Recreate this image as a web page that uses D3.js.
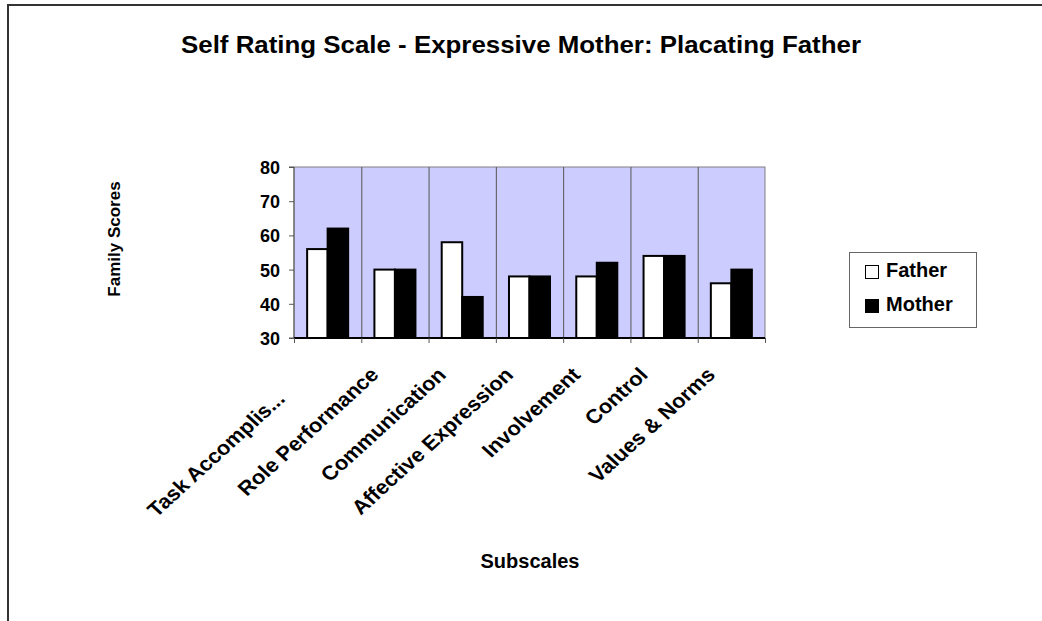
<!DOCTYPE html>
<html>
<head>
<meta charset="utf-8">
<script src="https://cdn.jsdelivr.net/npm/d3@7"></script>
<style>
  body { margin: 0; background: #fff; }
  text { font-family: "Liberation Sans", Arial, sans-serif; font-weight: bold; fill: #000; }
</style>
</head>
<body>
<div id="chart"></div>
<script>
// chart data
var subscales = ["Task Accomplis...", "Role Performance", "Communication", "Affective Expression",
                 "Involvement", "Control", "Values & Norms"];
var seriesNames = ["Father", "Mother"];
var fatherScores = [56, 50, 58, 48, 48, 54, 46];
var motherScores = [62, 50, 42, 48, 52, 54, 50];
var yTicks = [30, 40, 50, 60, 70, 80];

var svgWidth = 1042;
var svgHeight = 621;

var plot = { left: 294, right: 765, top: 167, bottom: 338 };

var svg = d3.select("#chart")
  .append("svg")
  .attr("width", svgWidth)
  .attr("height", svgHeight);

// outer chart border (bottom edge runs off the picture)
svg.append("path")
  .attr("d", `M8,${svgHeight + 5} V5 H${svgWidth + 5}`)
  .attr("fill", "none")
  .attr("stroke", "#333")
  .attr("stroke-width", 2);

// title
svg.append("text")
  .attr("x", 521)
  .attr("y", 53)
  .attr("text-anchor", "middle")
  .attr("textLength", 680)
  .attr("lengthAdjust", "spacingAndGlyphs")
  .style("font-size", "23px")
  .text("Self Rating Scale - Expressive Mother: Placating Father");

// scales
var xScale = d3.scaleBand()
  .domain(subscales)
  .range([plot.left, plot.right]);

var xInner = d3.scaleBand()
  .domain(seriesNames)
  .range([0, xScale.bandwidth()])
  .paddingOuter(0.64);

var yScale = d3.scaleLinear()
  .domain([30, 80])
  .range([plot.bottom, plot.top]);

// plot area background
svg.append("rect")
  .attr("x", plot.left)
  .attr("y", plot.top)
  .attr("width", plot.right - plot.left)
  .attr("height", plot.bottom - plot.top)
  .attr("fill", "#ccccff")
  .attr("stroke", "#808080")
  .attr("stroke-width", 1);

// vertical gridlines on category boundaries
svg.append("g")
  .selectAll("line")
  .data(subscales.slice(1))
  .enter()
  .append("line")
  .attr("x1", d => xScale(d) + 0.5)
  .attr("x2", d => xScale(d) + 0.5)
  .attr("y1", plot.top)
  .attr("y2", plot.bottom)
  .attr("stroke", "#555")
  .attr("stroke-width", 1);

// bars
var rows = subscales.map((s, i) => ({ name: s, Father: fatherScores[i], Mother: motherScores[i] }));
var fills = { Father: "#ffffff", Mother: "#000000" };

svg.append("g")
  .selectAll("g")
  .data(rows)
  .enter()
  .append("g")
  .attr("transform", d => `translate(${xScale(d.name)},0)`)
  .selectAll("rect")
  .data(d => seriesNames.map(k => ({ key: k, value: d[k] })))
  .enter()
  .append("rect")
  .attr("x", d => xInner(d.key))
  .attr("y", d => yScale(d.value))
  .attr("width", xInner.bandwidth())
  .attr("height", d => yScale(30) - yScale(d.value))
  .attr("fill", d => fills[d.key])
  .attr("stroke", "#000")
  .attr("stroke-width", 2);

// y axis
var leftAxis = d3.axisLeft(yScale)
  .tickValues(yTicks)
  .tickSize(5)
  .tickPadding(9);

var yAxis = svg.append("g")
  .attr("transform", `translate(${plot.left},0)`)
  .call(leftAxis);
yAxis.select(".domain").attr("stroke", "#555").attr("d", `M-5,${plot.top}H0V${plot.bottom}H-5`);
yAxis.selectAll("line").attr("stroke", "#555");
yAxis.selectAll("text")
  .style("font-size", "18px")
  .style("font-family", "'Liberation Sans', Arial, sans-serif")
  .style("font-weight", "bold")
  .attr("dy", "0.36em");

// x axis: ticks at category boundaries
var xAxis = svg.append("g");
xAxis.append("line")
  .attr("x1", plot.left)
  .attr("x2", plot.right)
  .attr("y1", plot.bottom)
  .attr("y2", plot.bottom)
  .attr("stroke", "#000")
  .attr("stroke-width", 2);
xAxis.selectAll(".tick")
  .data(subscales.concat(["end"]))
  .enter()
  .append("line")
  .attr("x1", (d, i) => plot.left + i * xScale.step() + 0.5)
  .attr("x2", (d, i) => plot.left + i * xScale.step() + 0.5)
  .attr("y1", plot.bottom)
  .attr("y2", plot.bottom + 5)
  .attr("stroke", "#555");

// rotated category labels (the cut-off one sits further down its line)
xAxis.selectAll("text")
  .data(subscales)
  .enter()
  .append("text")
  .attr("transform", d => `translate(${xScale(d) + xScale.bandwidth() / 2 - 15},${plot.bottom + 38}) scale(1.1,1) rotate(-45)`)
  .attr("text-anchor", "end")
  .attr("dx", d => d.endsWith("...") ? -34 : 0)
  .style("font-size", "20px")
  .text(d => d);

// axis titles
svg.append("text")
  .attr("transform", `translate(120,239) rotate(-90)`)
  .attr("text-anchor", "middle")
  .style("font-size", "17px")
  .text("Family Scores");

svg.append("text")
  .attr("x", 530)
  .attr("y", 568)
  .attr("text-anchor", "middle")
  .style("font-size", "20px")
  .text("Subscales");

// legend
var legend = svg.append("g");
legend.append("rect")
  .attr("x", 849.5)
  .attr("y", 252.5)
  .attr("width", 127)
  .attr("height", 75)
  .attr("fill", "#fff")
  .attr("stroke", "#666");

var legendItems = legend.selectAll("g")
  .data(seriesNames)
  .enter()
  .append("g")
  .attr("transform", (d, i) => `translate(865,${265 + i * 34})`);

legendItems.append("rect")
  .attr("x", 0.5)
  .attr("y", 0.5)
  .attr("width", 13)
  .attr("height", 13)
  .attr("fill", d => fills[d])
  .attr("stroke", "#000");

legendItems.append("text")
  .attr("x", 21)
  .attr("y", 12)
  .style("font-size", "20px")
  .text(d => d);
</script>
</body>
</html>
